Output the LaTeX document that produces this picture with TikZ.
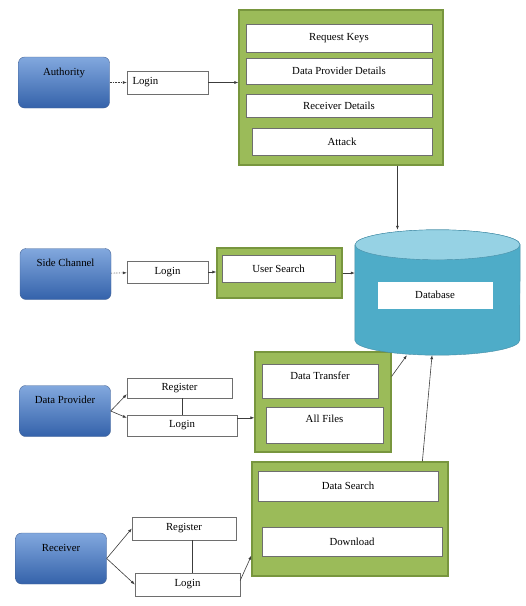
\documentclass[tikz,border=0pt]{standalone}
\usepackage{fontspec}
\setmainfont{Liberation Serif}
\usetikzlibrary{arrows.meta,calc}
\definecolor{actortop}{RGB}{130,168,222}
\definecolor{actorbot}{RGB}{52,98,170}
\definecolor{actorline}{RGB}{70,100,150}
\definecolor{panelfill}{RGB}{155,187,89}
\definecolor{panelline}{RGB}{120,150,62}
\definecolor{itemline}{RGB}{110,110,110}
\definecolor{dbbody}{RGB}{78,172,200}
\definecolor{dbend}{RGB}{150,210,228}
\definecolor{dbline}{RGB}{70,140,165}
\definecolor{linkgray}{RGB}{60,60,60}

\begin{document}
\begin{tikzpicture}[x=1pt,y=-1pt,font=\fontsize{10.8}{12}\selectfont,
actor/.style={rectangle,rounded corners=6pt,top color=actortop,bottom color=actorbot,draw=actorline,minimum width=91pt,inner sep=0pt,text height=18pt,text depth=33pt},
panel/.style={rectangle,fill=panelfill,draw=panelline,line width=1.2pt,inner sep=0pt},
item/.style={rectangle,fill=white,draw=itemline,inner sep=0pt},
dbend/.style={x radius=82.5pt,y radius=15pt},
link/.style={draw=linkgray,line width=0.6pt,-{Latex[length=4pt,width=3pt]}},
tie/.style={draw=linkgray,line width=0.6pt}]
\useasboundingbox (0,0) rectangle (526,606);

\node [actor] (auth) at (64,82.5) {Authority};
\node [actor] (side) at (65.5,274) {Side Channel};
\node [actor] (prov) at (65,411) {Data Provider};
\node [actor] (recv) at (61,558.5) {Receiver};

\node [item,minimum width=81pt,minimum height=23pt,text width=70pt,align=left] (loginA) at (167.5,82.5) {Login};
\node [item,minimum width=81pt,minimum height=22pt] (loginB) at (167.5,272) {Login};
\node [item,minimum width=105pt,minimum height=20pt] (regC) at (179.5,388) {Register};
\node [item,minimum width=110pt,minimum height=21pt] (loginC) at (182,425.5) {Login};
\node [item,minimum width=104pt,minimum height=23pt] (regD) at (184,528.5) {Register};
\node [item,minimum width=105pt,minimum height=23pt] (loginD) at (187.5,584.5) {Login};

\node [panel,minimum width=204pt,minimum height=155pt] (panA) at (341,87.5) {};
\node [item,minimum width=186pt,minimum height=28pt] (keys) at (339,38) {Request Keys};
\node [item,minimum width=186pt,minimum height=26pt] (provdet) at (339,71) {Data Provider Details};
\node [item,minimum width=186pt,minimum height=23pt] (recvdet) at (339,105.5) {Receiver Details};
\node [item,minimum width=180pt,minimum height=27pt] (attack) at (342,141.5) {Attack};

\node [panel,minimum width=125pt,minimum height=50pt] (panB) at (279.5,273) {};
\node [item,minimum width=113pt,minimum height=27pt] (usersearch) at (278.5,268.5) {User Search};

\node [panel,minimum width=136pt,minimum height=100pt] (panC) at (323,402) {};
\node [item,minimum width=116pt,text height=15pt,text depth=19pt] (transfer) at (320,381) {Data Transfer};
\node [item,minimum width=117pt,text height=15pt,text depth=21pt] (files) at (324.5,425) {All Files};

\node [panel,minimum width=196pt,minimum height=114pt] (panD) at (350,519) {};
\node [item,minimum width=180pt,minimum height=30pt] (search) at (348,486) {Data Search};
\node [item,minimum width=180pt,minimum height=29pt] (download) at (352,541.5) {Download};

\node [minimum width=165pt,minimum height=125pt,inner sep=0pt] (db) at (437.5,292.5) {};
\filldraw[fill=dbbody,draw=dbline] ([yshift=-15pt]db.north west) -- ([yshift=15pt]db.south west) arc[start angle=180,end angle=360,dbend] -- ([yshift=-15pt]db.north east) arc[start angle=0,end angle=180,dbend] -- cycle;
\filldraw[fill=dbend,draw=dbline] ([yshift=-15pt]db.north) ellipse[dbend];
\node [item,draw=white,minimum width=114pt,minimum height=26pt] (dblabel) at (435,295) {Database};

\coordinate (panAout) at ($(panA.south west)!0.775!(panA.south east)$);
\coordinate (panCout) at ([yshift=-25pt]panC.north east);
\coordinate (panDout) at ($(panD.north west)!0.867!(panD.north east)$);

\draw[link,densely dotted] (auth) -- (loginA);
\draw[link] (loginA.east) -- (loginA.east -| panA.west);
\draw[link] (panAout) -- (panAout |- db.north);
\draw[link,densely dotted] (side) -- (loginB);
\draw[link] (loginB.east) -- (loginB.east -| panB.west);
\draw[link] (panB.east) -- (panB.east -| db.west);
\draw[link] (prov.east) -- ([yshift=4pt]regC.south west);
\draw[link] (prov.east) -- ([yshift=-3pt]loginC.north west);
\draw[tie] ([xshift=3pt]regC.south) -- ([xshift=3pt]regC.south |- loginC.north);
\draw[link] ([yshift=-3pt]loginC.north east) -- ([yshift=-3pt]loginC.north east -| panC.west);
\draw[link] (panCout) -- ($(db.south west)!0.315!(db.south east)$);
\draw[link] (recv.east) -- (regD.west);
\draw[link] (recv.east) -- (loginD.west);
\draw[tie] ([xshift=8pt]regD.south) -- ([xshift=8pt]regD.south |- loginD.north);
\draw[link] ([yshift=4pt]loginD.east) -- ([yshift=21pt]panD.south west);
\draw[link] (panDout) -- ($(db.south west)!0.467!(db.south east)$);
\end{tikzpicture}
\end{document}
